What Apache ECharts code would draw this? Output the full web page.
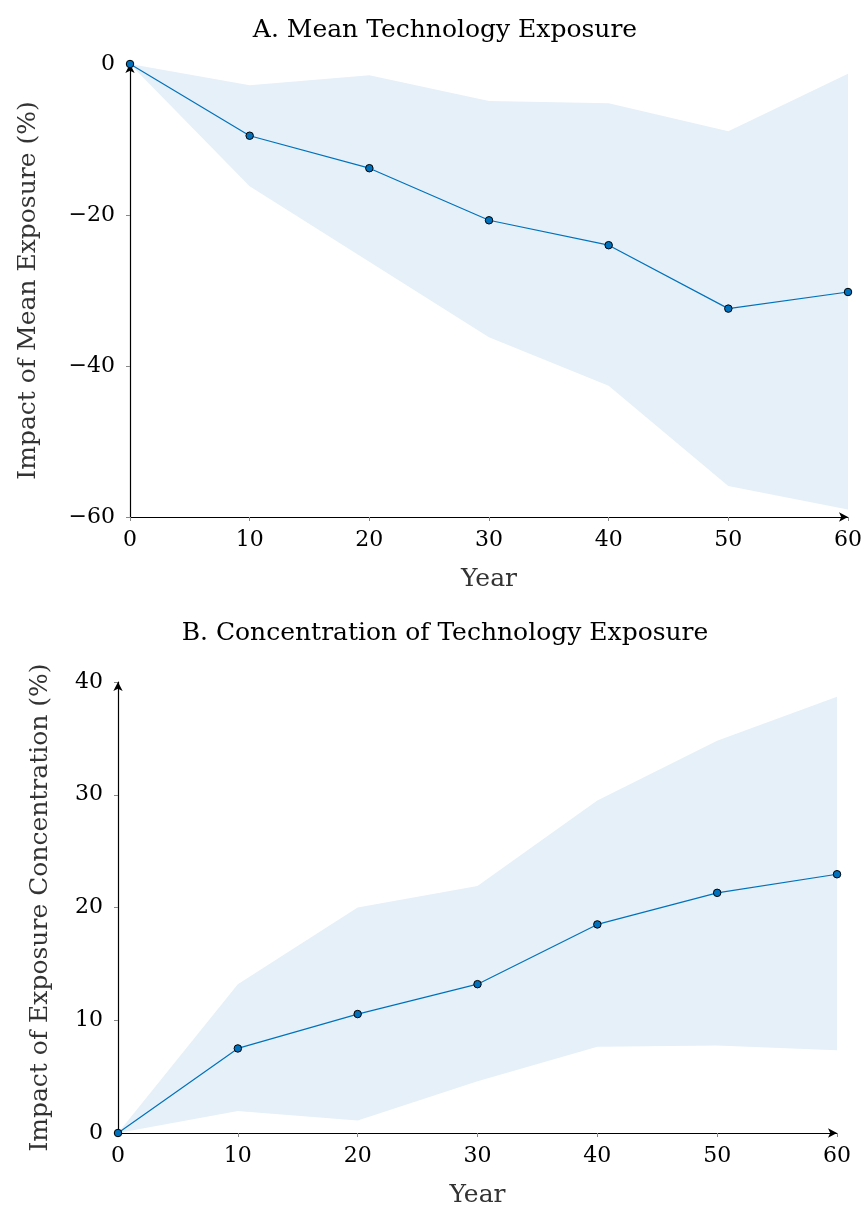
<!DOCTYPE html>
<html><head><meta charset="utf-8">
<script src="https://cdn.jsdelivr.net/npm/echarts@6/dist/echarts.min.js"></script>
<style>html,body{margin:0;padding:0;background:#fff}#c{width:867px;height:1214px}</style>
</head><body><div id="c"></div>
<script>
const years = [0, 10, 20, 30, 40, 50, 60];
const meanA = [0, -9.5, -13.8, -20.7, -24.0, -32.4, -30.2];
const upperA = [0, -2.8, -1.5, -4.9, -5.2, -8.9, -1.3];
const lowerA = [0, -16.2, -26.2, -36.2, -42.6, -55.9, -59.0];
const meanB = [0, 7.5, 10.55, 13.2, 18.5, 21.3, 22.95];
const upperB = [0, 13.2, 20.0, 21.9, 29.5, 34.8, 38.7];
const lowerB = [0, 1.95, 1.1, 4.6, 7.65, 7.75, 7.35];
const titleA = 'A. Mean Technology Exposure';
const titleB = 'B. Concentration of Technology Exposure';
const yNameA = 'Impact of Mean Exposure (%)';
const yNameB = 'Impact of Exposure Concentration (%)';
const xName = 'Year';

const FONT = 'DejaVu Serif';
const BLUE = '#0072BD';
const FILL = '#E5F0F8';
const fmt = v => String(v).replace('-', '\u2212');
const pairs = arr => years.map((x, i) => [x, arr[i]]);

function xAx(gi) {
  return {
    type: 'value', gridIndex: gi, min: 0, max: 60, interval: 10,
    name: xName, nameLocation: 'middle', nameGap: 50,
    nameTextStyle: {fontFamily: FONT, fontSize: 25, color: '#333'},
    axisLine: {onZero: false, show: true, lineStyle: {color: '#000', width: 1.2}, symbol: ['none', 'arrow'], symbolSize: [7, 9]},
    axisTick: {show: true, length: 4, lineStyle: {color: '#888'}},
    axisLabel: {fontFamily: FONT, fontSize: 22, color: '#000', margin: 12, formatter: fmt},
    splitLine: {show: false}
  };
}
function yAx(gi, min, max, interval, name, gap) {
  return {
    type: 'value', gridIndex: gi, min, max, interval,
    name, nameLocation: 'middle', nameGap: gap, nameRotate: 90,
    nameTextStyle: {fontFamily: FONT, fontSize: 25, color: '#333'},
    axisLine: {onZero: false, show: true, lineStyle: {color: '#000', width: 1.2}, symbol: ['none', 'arrow'], symbolSize: [7, 9]},
    axisTick: {show: true, length: 4, lineStyle: {color: '#888'}},
    axisLabel: {fontFamily: FONT, fontSize: 22, color: '#000', margin: 15, formatter: fmt},
    splitLine: {show: false}
  };
}
function band(gi, lower, upper) {
  return {
    type: 'custom', xAxisIndex: gi, yAxisIndex: gi, silent: true, z: 1,
    data: years.map((x, i) => [x, lower[i], upper[i]]),
    renderItem: function (params, api) {
      if (params.dataIndex !== 0) return null;
      const pts = [];
      for (let j = 0; j < years.length; j++) pts.push(api.coord([years[j], upper[j]]));
      for (let j = years.length - 1; j >= 0; j--) pts.push(api.coord([years[j], lower[j]]));
      return {type: 'polygon', shape: {points: pts}, style: {fill: FILL, stroke: null}};
    }
  };
}
function meanS(gi, mean) {
  return {type: 'line', xAxisIndex: gi, yAxisIndex: gi, data: pairs(mean), z: 5,
    symbol: 'circle', symbolSize: 7.5,
    itemStyle: {color: BLUE, borderColor: '#000', borderWidth: 1},
    lineStyle: {color: BLUE, width: 1.2}};
}

const chart = echarts.init(document.getElementById('c'), null, {renderer: 'canvas'});
chart.setOption({
  animation: false,
  backgroundColor: '#fff',
  title: [
    {text: titleA, left: 440, top: 13, textAlign: 'center', textStyle: {fontFamily: FONT, fontSize: 25, fontWeight: 'normal', color: '#000'}},
    {text: titleB, left: 440, top: 616, textAlign: 'center', textStyle: {fontFamily: FONT, fontSize: 25, fontWeight: 'normal', color: '#000'}}
  ],
  grid: [
    {left: 130, top: 64, width: 718, height: 453},
    {left: 118, top: 682, width: 719, height: 451}
  ],
  xAxis: [xAx(0), xAx(1)],
  yAxis: [yAx(0, -60, 0, 20, yNameA, 89), yAx(1, 0, 40, 10, yNameB, 65)],
  series: [
    band(0, lowerA, upperA),
    meanS(0, meanA),
    band(1, lowerB, upperB),
    meanS(1, meanB)
  ]
});
</script></body></html>
